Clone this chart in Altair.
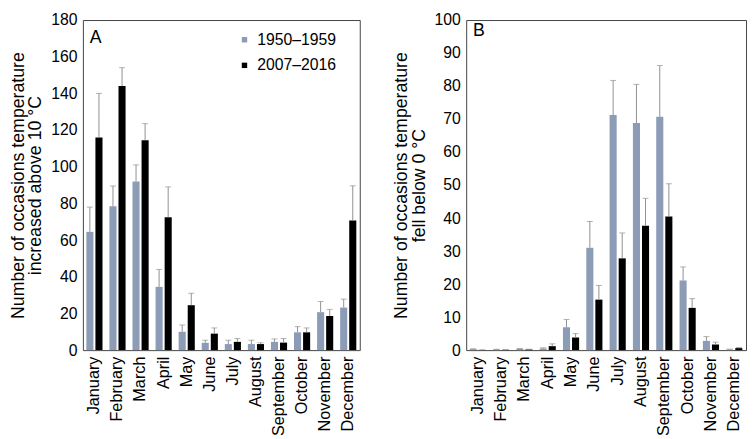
import altair as alt
import pandas as pd

months = ["January", "February", "March", "April", "May", "June", "July",
          "August", "September", "October", "November", "December"]
periods = ["1950–1959", "2007–2016"]

# Panel A: occasions temperature increased above 10 °C
a_1950 = [64.5, 78.5, 92, 34.5, 10, 4, 3.3, 3.3, 4.5, 9.7, 20.7, 23.2]
a_1950_err = [78, 89.5, 101, 44, 13.7, 5.4, 5.4, 5.4, 6.1, 12.8, 26.5, 27.8]
a_2007 = [116, 144, 114.5, 72.4, 24.5, 9, 4.5, 3.3, 4.1, 9.7, 18.6, 70.7]
a_2007_err = [140, 154, 123.5, 89, 31, 12.1, 6.3, 4, 6.3, 12.1, 22.2, 89.6]

# Panel B: occasions temperature fell below 0 °C
b_1950 = [0.3, 0.2, 0.4, 0.5, 6.9, 31, 71.2, 68.8, 70.7, 21.1, 2.8, 0.2]
b_1950_err = [0.4, 0.3, 0.5, 0.7, 9.3, 39, 81.7, 80.5, 86.2, 25.2, 4.1, 0.3]
b_2007 = [0.05, 0.1, 0.2, 1.2, 3.8, 15.3, 27.8, 37.7, 40.5, 12.8, 1.7, 0.6]
b_2007_err = [0.1, 0.15, 0.3, 1.9, 5, 19.6, 35.5, 46, 50.4, 15.6, 2.4, 0.8]

FONT = "Liberation Sans"
GRAY = "#8c9bb6"
ERR = "#909090"


def make_df(v1, e1, v2, e2):
    rows = []
    for i, m in enumerate(months):
        rows.append({"month": m, "period": periods[0], "value": v1[i], "err": e1[i]})
        rows.append({"month": m, "period": periods[1], "value": v2[i], "err": e2[i]})
    return pd.DataFrame(rows)


def panel(df, ymax, ystep, ytitle, letter, letter_y, width, height, legend):
    xscale = alt.Scale(paddingInner=0.3, paddingOuter=0.15)
    xaxis = alt.Axis(labelAngle=-90, labelAlign="right", labelBaseline="middle",
                     labelPadding=6, ticks=False, domain=False,
                     labelFontSize=16.5, labelFont=FONT, labelColor="black")
    xenc = alt.X("month:N", sort=months, title=None, scale=xscale, axis=xaxis)
    xoff = alt.XOffset("period:N", sort=periods,
                       scale=alt.Scale(paddingInner=0.22, paddingOuter=0))
    yscale = alt.Scale(domain=[0, ymax], nice=False)
    yaxis = alt.Axis(values=list(range(0, ymax + 1, ystep)), grid=False, ticks=False,
                     domain=False, labelPadding=6, labelFontSize=16, labelFont=FONT,
                     labelColor="black", labelOverlap=False, labelBound=False,
                     title=ytitle,
                     titleFontSize=18, titleFont=FONT, titleFontWeight="normal",
                     titleColor="black", titlePadding=6, titleLineHeight=18)
    if legend:
        leg = alt.Legend(orient="none", legendX=156, legendY=12, title=None,
                         symbolType="square", symbolSize=30, symbolStrokeWidth=0,
                         labelFontSize=16, labelFont=FONT, labelColor="black",
                         rowPadding=10, labelOffset=5, padding=0)
    else:
        leg = None
    color = alt.Color("period:N", sort=periods,
                      scale=alt.Scale(domain=periods, range=[GRAY, "#000000"]),
                      legend=leg)
    base = alt.Chart(df)
    bars = base.mark_bar().encode(x=xenc, xOffset=xoff,
                                  y=alt.Y("value:Q", scale=yscale, axis=yaxis),
                                  color=color)
    rules = base.mark_rule(color=ERR, strokeWidth=1).encode(
        x=xenc, xOffset=xoff,
        y=alt.Y("value:Q", scale=yscale, axis=yaxis), y2=alt.Y2("err:Q"))
    ticks = base.mark_tick(color=ERR, thickness=1, size=6).encode(
        x=xenc, xOffset=xoff,
        y=alt.Y("err:Q", scale=yscale, axis=yaxis))
    txt = alt.Chart(pd.DataFrame({"label": [letter]})).mark_text(
        font=FONT, fontSize=18, align="left", baseline="alphabetic", color="black"
    ).encode(text="label:N", x=alt.value(7), y=alt.value(letter_y))
    return alt.layer(bars, rules, ticks, txt).properties(width=width, height=height)


df_a = make_df(a_1950, a_1950_err, a_2007, a_2007_err)
df_b = make_df(b_1950, b_1950_err, b_2007, b_2007_err)

chart_a = panel(df_a, 180, 20, ["Number of occasions temperature", "increased above 10 °C"],
                "A", 23, 281, 335, True)
chart_b = panel(df_b, 100, 10, ["Number of occasions temperature", "fell below 0 °C"],
                "B", 16, 284, 335, False)

chart = alt.hconcat(chart_a, chart_b, spacing=31).resolve_scale(
    color="independent", x="independent", y="independent"
).resolve_legend(color="independent").properties(
    padding=0
).configure_axis(labelOverlap=False).configure_view(stroke="#444444", strokeWidth=1)

chart.save("out.html", embed_options={"renderer": "svg", "actions": False})
